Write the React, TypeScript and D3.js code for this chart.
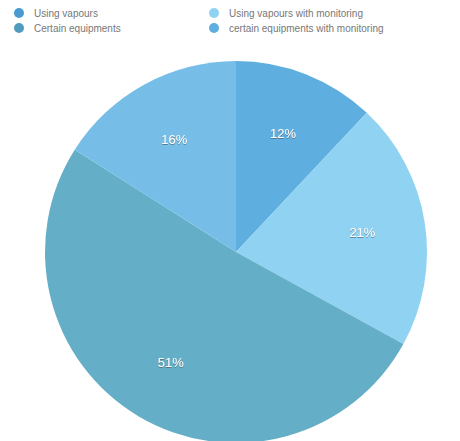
import React from "react";
import * as d3 from "d3";

const categories = [
  "Using vapours",
  "Using vapours with monitoring",
  "Certain equipments",
  "certain equipments with monitoring",
];
const values = [12, 21, 51, 16];
const colors = ["#5eaee0", "#8fd2f2", "#64aec7", "#76bee8"];
const legendColors = ["#4a9bd4", "#8fd2f2", "#4f9cbe", "#5eaee0"];

export default function App() {
  const width = 460;
  const height = 441;
  const cx = 236;
  const cy = 252;
  const R = 191;
  const pie = d3.pie<number>().sort(null).value((d) => d);
  const arcs = pie(values);
  const arc = d3.arc<d3.PieArcDatum<number>>().innerRadius(0).outerRadius(R);
  const labelArc = d3
    .arc<d3.PieArcDatum<number>>()
    .innerRadius(R * 0.67)
    .outerRadius(R * 0.67);
  const legendPos = [
    { x: 19, y: 13 },
    { x: 214, y: 13 },
    { x: 19, y: 28 },
    { x: 214, y: 28 },
  ];
  return (
    <svg
      width={width}
      height={height}
      style={{ position: "absolute", left: 0, top: 0, background: "#fff" }}
      fontFamily="'Liberation Sans', Arial, sans-serif"
    >
      <defs>
        <filter id="sh" x="-20%" y="-20%" width="140%" height="140%">
          <feDropShadow dx="0" dy="0.8" stdDeviation="0.6" floodColor="#4a5a66" floodOpacity="0.8" />
        </filter>
      </defs>
      {categories.map((c, i) => (
        <g key={c}>
          <circle cx={legendPos[i].x} cy={legendPos[i].y} r={5} fill={legendColors[i]} />
          <text
            x={legendPos[i].x + 15}
            y={legendPos[i].y + 3.5}
            fontSize={10}
            fill="#777"
          >
            {c}
          </text>
        </g>
      ))}
      <g transform={`translate(${cx},${cy})`}>
        {arcs.map((a, i) => (
          <path key={i} d={arc(a) || ""} fill={colors[i]} />
        ))}
        {arcs.map((a, i) => {
          const [x, y] = labelArc.centroid(a);
          return (
            <text
              key={"l" + i}
              x={x}
              y={y}
              dy="0.35em"
              textAnchor="middle"
              fontSize={13}
              fill="#ffffff"
              filter="url(#sh)"
            >
              {values[i]}%
            </text>
          );
        })}
      </g>
    </svg>
  );
}
